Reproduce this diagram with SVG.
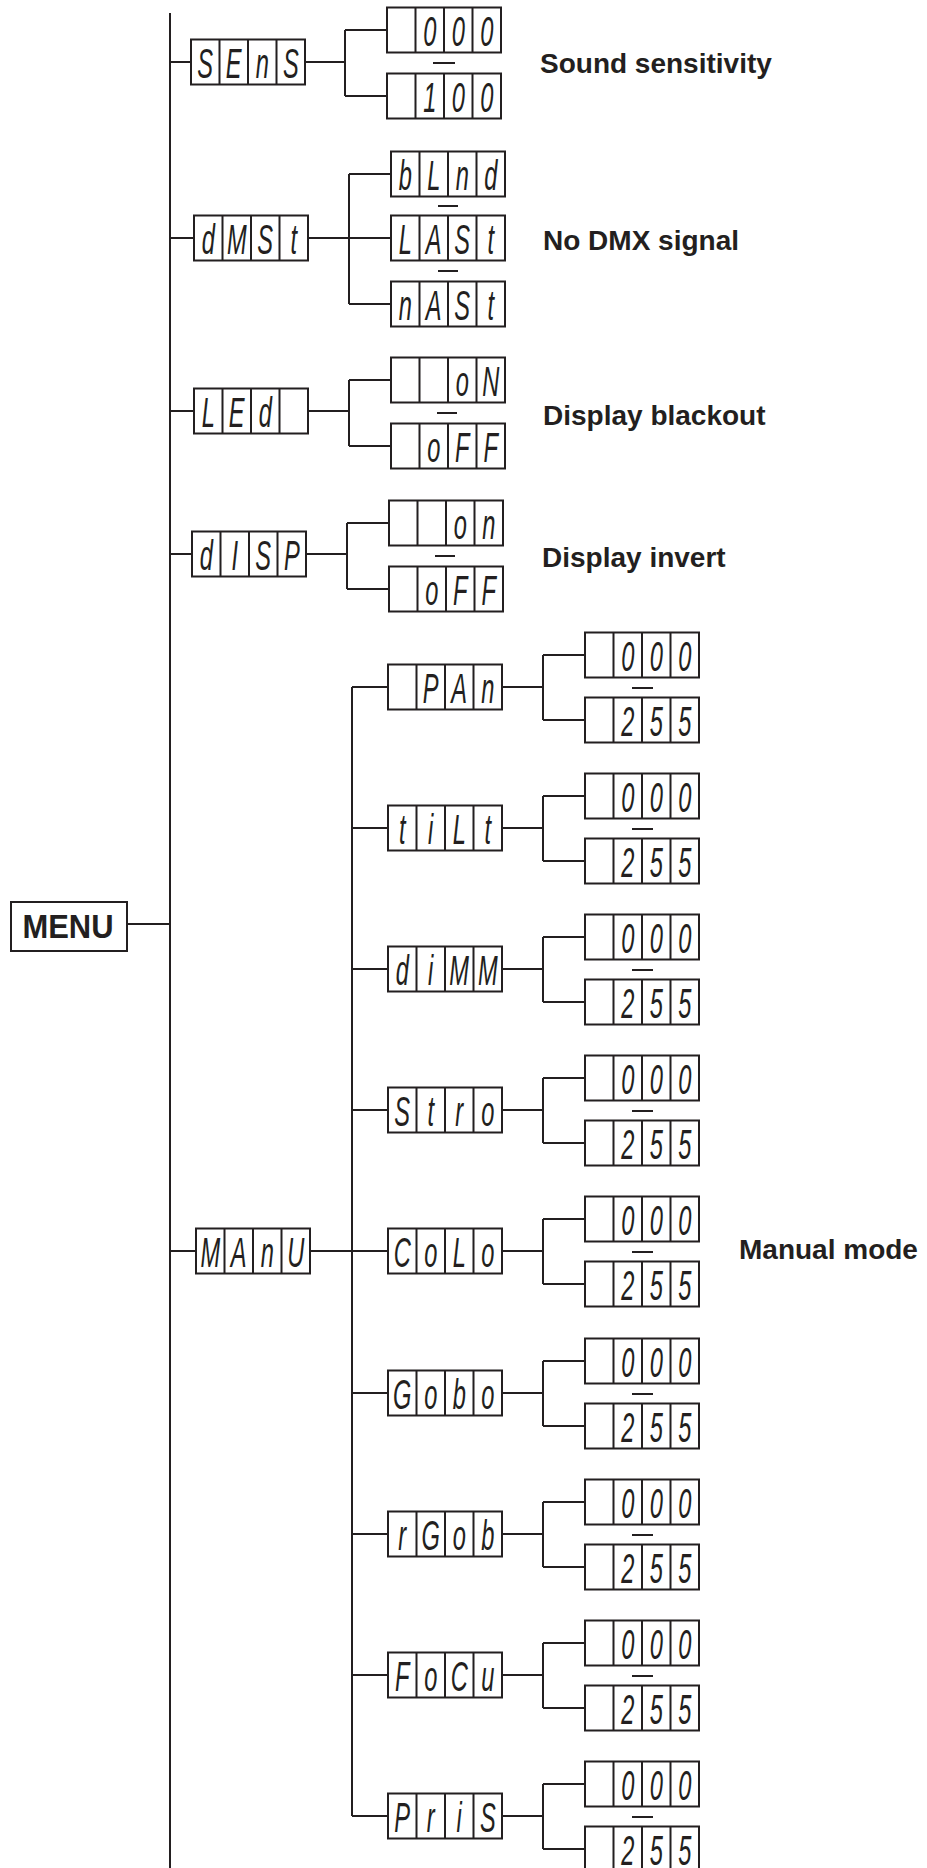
<svg xmlns="http://www.w3.org/2000/svg" xmlns:xlink="http://www.w3.org/1999/xlink" width="927" height="1868" viewBox="0 0 927 1868">
<style>
.ln{stroke:#231f20;stroke-width:2;fill:none}
.box{fill:#fff;stroke:#231f20;stroke-width:2}
.seg{font-family:"Liberation Sans",Arial,sans-serif;font-style:italic;font-size:43px;fill:#231f20;text-anchor:middle}
.lbl{font-family:"Liberation Sans",Arial,sans-serif;font-weight:bold;font-size:28px;fill:#231f20}
.menu{font-family:"Liberation Sans",Arial,sans-serif;font-weight:bold;font-size:34px;fill:#231f20;text-anchor:middle}
</style>
<defs>
<path id="disp" class="box" d="M0 0h114v45H0z M28.5 0v45 M57 0v45 M85.5 0v45"/>
</defs>
<rect width="927" height="1868" fill="#fff"/>

<g id="connectors" class="ln">
<path d="M170 13V1868"/>
<path d="M127 924H170"/>
<!-- SEnS -->
<path d="M170 62H191 M305 62H345 M345 30V96 M345 30H387 M345 96H387"/>
<!-- dMSt -->
<path d="M170 238H194 M308 238H349 M349 174V304 M349 174H391 M349 238H391 M349 304H391"/>
<!-- LEd -->
<path d="M170 411H194 M308 411H349 M349 380V446 M349 380H391 M349 446H391"/>
<!-- dISP -->
<path d="M170 554H192 M306 554H347 M347 523V589 M347 523H389 M347 589H389"/>
<!-- MAnU -->
<path d="M170 1251H196 M310 1251H352 M352 687V1816"/>
<path d="M352 687H388 M502 687H543 M543 655V720 M543 655H585 M543 720H585"/>
<path d="M352 828H388 M502 828H543 M543 796V861 M543 796H585 M543 861H585"/>
<path d="M352 969H388 M502 969H543 M543 937V1002 M543 937H585 M543 1002H585"/>
<path d="M352 1110H388 M502 1110H543 M543 1078V1143 M543 1078H585 M543 1143H585"/>
<path d="M352 1251H388 M502 1251H543 M543 1219V1284 M543 1219H585 M543 1284H585"/>
<path d="M352 1393H388 M502 1393H543 M543 1361V1426 M543 1361H585 M543 1426H585"/>
<path d="M352 1534H388 M502 1534H543 M543 1502V1567 M543 1502H585 M543 1567H585"/>
<path d="M352 1675H388 M502 1675H543 M543 1643V1708 M543 1643H585 M543 1708H585"/>
<path d="M352 1816H388 M502 1816H543 M543 1784V1849 M543 1784H585 M543 1849H585"/>
</g>

<g id="separators" class="ln">
<path d="M433 63H455"/>
<path d="M438 206H458 M438 271H458"/>
<path d="M437 413H457"/>
<path d="M435 556H455"/>
<path d="M632 688H653 M632 829H653 M632 970H653 M632 1111H653 M632 1252H653 M632 1394H653 M632 1535H653 M632 1676H653 M632 1817H653"/>
</g>

<g id="menu">
<rect x="11" y="902" width="116" height="49" class="box"/>
<text class="menu" x="68" y="938" textLength="91" lengthAdjust="spacingAndGlyphs">MENU</text>
</g>

<!-- level 1 -->
<g id="sens" transform="translate(191,39.5)"><use href="#disp"/><text class="seg" transform="scale(0.55,1)" x="25.9 77.7 129.5 181.4" y="39">SEnS</text></g>
<g id="sens-000" transform="translate(387,7.5)"><use href="#disp"/><text class="seg" transform="scale(0.55,1)" x="77.7 129.5 181.4" y="39">000</text></g>
<g id="sens-100" transform="translate(387,73.5)"><use href="#disp"/><text class="seg" transform="scale(0.55,1)" x="77.7 129.5 181.4" y="39">100</text></g>

<g id="dmst" transform="translate(194,215.5)"><use href="#disp"/><text class="seg" transform="scale(0.55,1)" x="25.9 77.7 129.5 181.4" y="39">dMSt</text></g>
<g id="dmst-blnd" transform="translate(391,151.5)"><use href="#disp"/><text class="seg" transform="scale(0.55,1)" x="25.9 77.7 129.5 181.4" y="39">bLnd</text></g>
<g id="dmst-last" transform="translate(391,215.5)"><use href="#disp"/><text class="seg" transform="scale(0.55,1)" x="25.9 77.7 129.5 181.4" y="39">LASt</text></g>
<g id="dmst-nast" transform="translate(391,281.5)"><use href="#disp"/><text class="seg" transform="scale(0.55,1)" x="25.9 77.7 129.5 181.4" y="39">nASt</text></g>

<g id="led" transform="translate(194,388.5)"><use href="#disp"/><text class="seg" transform="scale(0.55,1)" x="25.9 77.7 129.5" y="39">LEd</text></g>
<g id="led-on" transform="translate(391,357.5)"><use href="#disp"/><text class="seg" transform="scale(0.55,1)" x="129.5 181.4" y="39">oN</text></g>
<g id="led-off" transform="translate(391,423.5)"><use href="#disp"/><text class="seg" transform="scale(0.55,1)" x="77.7 129.5 181.4" y="39">oFF</text></g>

<g id="disp-node" transform="translate(192,531.5)"><use href="#disp"/><text class="seg" transform="scale(0.55,1)" x="25.9 77.7 129.5 181.4" y="39">dISP</text></g>
<g id="disp-on" transform="translate(389,500.5)"><use href="#disp"/><text class="seg" transform="scale(0.55,1)" x="129.5 181.4" y="39">on</text></g>
<g id="disp-off" transform="translate(389,566.5)"><use href="#disp"/><text class="seg" transform="scale(0.55,1)" x="77.7 129.5 181.4" y="39">oFF</text></g>

<g id="manu" transform="translate(196,1228.5)"><use href="#disp"/><text class="seg" transform="scale(0.55,1)" x="25.9 77.7 129.5 181.4" y="39">MAnU</text></g>

<!-- manual sub items -->
<g id="pan" transform="translate(388,664.5)"><use href="#disp"/><text class="seg" transform="scale(0.55,1)" x="77.7 129.5 181.4" y="39">PAn</text></g>
<g id="pan-000" transform="translate(585,632.5)"><use href="#disp"/><text class="seg" transform="scale(0.55,1)" x="77.7 129.5 181.4" y="39">000</text></g>
<g id="pan-255" transform="translate(585,697.5)"><use href="#disp"/><text class="seg" transform="scale(0.55,1)" x="77.7 129.5 181.4" y="39">255</text></g>

<g id="tilt" transform="translate(388,805.5)"><use href="#disp"/><text class="seg" transform="scale(0.55,1)" x="25.9 77.7 129.5 181.4" y="39">tiLt</text></g>
<g id="tilt-000" transform="translate(585,773.5)"><use href="#disp"/><text class="seg" transform="scale(0.55,1)" x="77.7 129.5 181.4" y="39">000</text></g>
<g id="tilt-255" transform="translate(585,838.5)"><use href="#disp"/><text class="seg" transform="scale(0.55,1)" x="77.7 129.5 181.4" y="39">255</text></g>

<g id="dimm" transform="translate(388,946.5)"><use href="#disp"/><text class="seg" transform="scale(0.55,1)" x="25.9 77.7 129.5 181.4" y="39">diMM</text></g>
<g id="dimm-000" transform="translate(585,914.5)"><use href="#disp"/><text class="seg" transform="scale(0.55,1)" x="77.7 129.5 181.4" y="39">000</text></g>
<g id="dimm-255" transform="translate(585,979.5)"><use href="#disp"/><text class="seg" transform="scale(0.55,1)" x="77.7 129.5 181.4" y="39">255</text></g>

<g id="stro" transform="translate(388,1087.5)"><use href="#disp"/><text class="seg" transform="scale(0.55,1)" x="25.9 77.7 129.5 181.4" y="39">Stro</text></g>
<g id="stro-000" transform="translate(585,1055.5)"><use href="#disp"/><text class="seg" transform="scale(0.55,1)" x="77.7 129.5 181.4" y="39">000</text></g>
<g id="stro-255" transform="translate(585,1120.5)"><use href="#disp"/><text class="seg" transform="scale(0.55,1)" x="77.7 129.5 181.4" y="39">255</text></g>

<g id="colo" transform="translate(388,1228.5)"><use href="#disp"/><text class="seg" transform="scale(0.55,1)" x="25.9 77.7 129.5 181.4" y="39">CoLo</text></g>
<g id="colo-000" transform="translate(585,1196.5)"><use href="#disp"/><text class="seg" transform="scale(0.55,1)" x="77.7 129.5 181.4" y="39">000</text></g>
<g id="colo-255" transform="translate(585,1261.5)"><use href="#disp"/><text class="seg" transform="scale(0.55,1)" x="77.7 129.5 181.4" y="39">255</text></g>

<g id="gobo" transform="translate(388,1370.5)"><use href="#disp"/><text class="seg" transform="scale(0.55,1)" x="25.9 77.7 129.5 181.4" y="39">Gobo</text></g>
<g id="gobo-000" transform="translate(585,1338.5)"><use href="#disp"/><text class="seg" transform="scale(0.55,1)" x="77.7 129.5 181.4" y="39">000</text></g>
<g id="gobo-255" transform="translate(585,1403.5)"><use href="#disp"/><text class="seg" transform="scale(0.55,1)" x="77.7 129.5 181.4" y="39">255</text></g>

<g id="rgob" transform="translate(388,1511.5)"><use href="#disp"/><text class="seg" transform="scale(0.55,1)" x="25.9 77.7 129.5 181.4" y="39">rGob</text></g>
<g id="rgob-000" transform="translate(585,1479.5)"><use href="#disp"/><text class="seg" transform="scale(0.55,1)" x="77.7 129.5 181.4" y="39">000</text></g>
<g id="rgob-255" transform="translate(585,1544.5)"><use href="#disp"/><text class="seg" transform="scale(0.55,1)" x="77.7 129.5 181.4" y="39">255</text></g>

<g id="focu" transform="translate(388,1652.5)"><use href="#disp"/><text class="seg" transform="scale(0.55,1)" x="25.9 77.7 129.5 181.4" y="39">FoCu</text></g>
<g id="focu-000" transform="translate(585,1620.5)"><use href="#disp"/><text class="seg" transform="scale(0.55,1)" x="77.7 129.5 181.4" y="39">000</text></g>
<g id="focu-255" transform="translate(585,1685.5)"><use href="#disp"/><text class="seg" transform="scale(0.55,1)" x="77.7 129.5 181.4" y="39">255</text></g>

<g id="pris" transform="translate(388,1793.5)"><use href="#disp"/><text class="seg" transform="scale(0.55,1)" x="25.9 77.7 129.5 181.4" y="39">PriS</text></g>
<g id="pris-000" transform="translate(585,1761.5)"><use href="#disp"/><text class="seg" transform="scale(0.55,1)" x="77.7 129.5 181.4" y="39">000</text></g>
<g id="pris-255" transform="translate(585,1826.5)"><use href="#disp"/><text class="seg" transform="scale(0.55,1)" x="77.7 129.5 181.4" y="39">255</text></g>

<g id="labels">
<text class="lbl" x="540" y="73">Sound sensitivity</text>
<text class="lbl" x="543" y="250">No DMX signal</text>
<text class="lbl" x="543" y="425">Display blackout</text>
<text class="lbl" x="542" y="567">Display invert</text>
<text class="lbl" x="739" y="1259">Manual mode</text>
</g>
</svg>
